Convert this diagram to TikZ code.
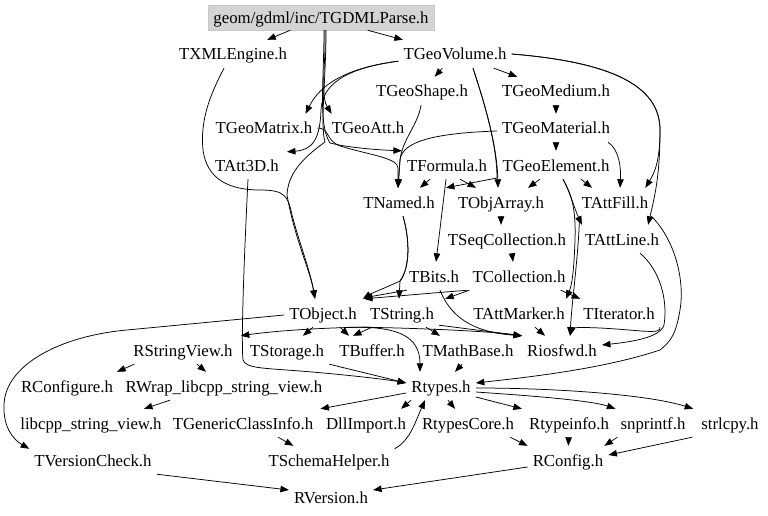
\documentclass[tikz,border=0pt]{standalone}
\usepackage{fontspec}
\setmainfont{Liberation Serif}
\usetikzlibrary{arrows.meta}
\begin{document}
\begin{tikzpicture}[x=1pt,y=-1pt,
  n/.style={inner xsep=5pt,inner ysep=7pt,text height=13pt,text depth=1pt,font=\fontsize{16.8}{18}\selectfont},
  root/.style={n,fill=black!17,draw=black!22,minimum width=226pt,minimum height=25pt,inner ysep=4pt},
  e/.style={draw=black,line width=0.75pt,-{Triangle[length=8.5pt,width=6.5pt]}}]
\fill[white] (0,0) rectangle (768,516);
\useasboundingbox (0,0) rectangle (768,516);
% nodes
\node[root] (P) at (321,17.5) {geom/gdml/inc/TGDMLParse.h};
\node[n] (XML) at (233,54) {TXMLEngine.h};
\node[n] (Vol) at (455,54) {TGeoVolume.h};
\node[n] (Shape) at (422,91) {TGeoShape.h};
\node[n] (Medium) at (556,91) {TGeoMedium.h};
\node[n] (Matrix) at (264,128) {TGeoMatrix.h};
\node[n] (Att) at (368,128) {TGeoAtt.h};
\node[n] (Material) at (556,128) {TGeoMaterial.h};
\node[n] (Att3D) at (247,165) {TAtt3D.h};
\node[n] (Formula) at (447,165) {TFormula.h};
\node[n] (Element) at (556,165) {TGeoElement.h};
\node[n] (Named) at (399,202) {TNamed.h};
\node[n] (ObjArray) at (501,202) {TObjArray.h};
\node[n] (AttFill) at (615,202) {TAttFill.h};
\node[n] (SeqColl) at (507,239) {TSeqCollection.h};
\node[n] (AttLine) at (622,239) {TAttLine.h};
\node[n] (Bits) at (434,276) {TBits.h};
\node[n] (Coll) at (519,276) {TCollection.h};
\node[n] (Object) at (323,313) {TObject.h};
\node[n] (String) at (402,313) {TString.h};
\node[n] (AttMarker) at (519,313) {TAttMarker.h};
\node[n] (Iterator) at (619,313) {TIterator.h};
\node[n] (RSV) at (183,350) {RStringView.h};
\node[n] (Storage) at (287,350) {TStorage.h};
\node[n] (Buffer) at (372,350) {TBuffer.h};
\node[n] (MathBase) at (468,350) {TMathBase.h};
\node[n] (Riosfwd) at (562,350) {Riosfwd.h};
\node[n] (RConfigure) at (67,386) {RConfigure.h};
\node[n] (RWrap) at (224,386) {RWrap\_libcpp\_string\_view.h};
\node[n] (Rtypes) at (441,386) {Rtypes.h};
\node[n] (Libcpp) at (91,423) {libcpp\_string\_view.h};
\node[n] (TGCI) at (243,423) {TGenericClassInfo.h};
\node[n] (DllImport) at (366,423) {DllImport.h};
\node[n] (RtypesCore) at (468,423) {RtypesCore.h};
\node[n] (Rtypeinfo) at (569,423) {Rtypeinfo.h};
\node[n] (Snprintf) at (653,423) {snprintf.h};
\node[n] (Strlcpy) at (730,423) {strlcpy.h};
\node[n] (TVC) at (93,460) {TVersionCheck.h};
\node[n] (Schema) at (329,460) {TSchemaHelper.h};
\node[n] (RConfig) at (568,460) {RConfig.h};
\node[n] (RVersion) at (331,497) {RVersion.h};
% edges
\draw[e] (P) -- (XML);
\draw[e] (P) -- (Vol);
\draw[e] (Vol) -- (Shape);
\draw[e] (Vol) -- (Medium);
\draw[e] (Vol) .. controls (345,68) and (320,85) .. ([xshift=-12pt]Matrix.north east);
\draw[e] ([xshift=4pt]P.south) .. controls (326,65) and (320,95) .. ([xshift=5pt]Att.north west);
\draw[e] ([xshift=3pt]P.south) .. controls (324,80) and (318,125) .. (330,143) .. controls (350,148) and (380,150) .. (Formula.north west);
\draw[e] (Vol) .. controls (345,68) and (322,85) .. (321,110) .. controls (320,140) and (312,150) .. ([xshift=3pt,yshift=-1pt]Att3D.north east);
\draw[e] (Matrix.east) .. controls (330,128) and (325,140) .. (340,146) .. controls (370,155) and (398,158) .. (398,168) -- ([xshift=-1pt]Named.north);
\draw[e] ([xshift=-1pt]Shape.south) .. controls (418,125) and (402,140) .. (400,160) -- ([xshift=-1pt]Named.north);
\draw[e] ([yshift=-3pt]Material.west) .. controls (440,133) and (402,140) .. (400,160) -- ([xshift=-1pt]Named.north);
\draw[e] ([xshift=-17pt]Formula.south) -- ([xshift=21pt]Named.north);
\draw[e] ([xshift=-1pt]Formula.south) -- ([xshift=2pt]Bits.north);
\draw[e] ([xshift=13pt]Formula.south) -- ([xshift=-25pt]ObjArray.north);
\draw[e] ([xshift=18pt]Vol.south) .. controls (480,90) and (497,140) .. ([xshift=-3pt]ObjArray.north);
\draw[e] ([xshift=18pt]Vol.south) .. controls (480,90) and (497,140) .. (497,178) -- ([xshift=6pt]Named.north east);
\draw[e] ([xshift=-16pt]Element.south) -- ([xshift=27pt]ObjArray.north);
\draw[e] (Medium) -- (Material);
\draw[e] (Material) -- (Element);
\draw[e] ([xshift=52pt]Material.south) .. controls (620,150) and (621,170) .. ([xshift=5pt]AttFill.north);
\draw[e] ([xshift=25pt]Element.south) -- ([xshift=-23pt]AttFill.north);
\draw[e] (Vol.east) .. controls (610,62) and (660,85) .. (660,130) .. controls (660,160) and (655,172) .. ([xshift=-8pt]AttFill.north east);
\draw[e] (Vol.east) .. controls (610,62) and (660,85) .. (660,130) .. controls (660,175) and (655,195) .. ([xshift=-16pt]AttLine.north east);
\draw[e] ([xshift=7pt]Element.south) .. controls (570,192) and (575,210) .. ([xshift=2pt]AttLine.north west);
\draw[e] ([xshift=7pt]Element.south) .. controls (572,195) and (576,210) .. (575,240) .. controls (574,270) and (572,285) .. ([xshift=-4pt]AttMarker.north east);
\draw[e] ([xshift=-10pt]Coll.south east) -- ([xshift=2pt]Iterator.north west);
\draw[e] ([xshift=3pt]AttFill.south west) .. controls (578,260) and (572,300) .. ([xshift=8pt]Riosfwd.north);
\draw[e] (ObjArray.south) -- ([xshift=-6pt]SeqColl.north);
\draw[e] ([xshift=5pt]SeqColl.south) -- ([xshift=-6pt]Coll.north);
\draw[e] (Coll.south west) -- ([xshift=2pt]Object.north east);
\draw[e] ([xshift=2pt]Coll.south west) -- ([xshift=6pt]String.north east);
\draw[e] ([xshift=4pt]Named.south) .. controls (410,240) and (410,268) .. (400,281) .. controls (385,288) and (372,293) .. ([xshift=1pt]Object.north east);
\draw[e] ([xshift=4pt]Named.south) .. controls (410,240) and (410,268) .. (400,281) -- ([xshift=-3pt]String.north);
\draw[e] ([xshift=3pt]Bits.south west) -- ([xshift=2pt,yshift=1pt]Object.north east);
\draw[e] ([xshift=6pt]Bits.south) .. controls (450,315) and (470,332) .. (Riosfwd.north west);
\draw[e] ([yshift=2pt]String.south east) -- (Riosfwd.north west);
\draw[e] ([xshift=24pt]String.south) -- ([xshift=-28pt]MathBase.north);
\draw[e] ([xshift=-10pt]Object.south) -- ([xshift=16pt]Storage.north);
\draw[e] ([xshift=17pt]Object.south) -- ([xshift=-23pt]Buffer.north);
\draw[e] ([xshift=-30pt]String.south) -- ([xshift=-19pt]Buffer.north);
\draw[e] ([xshift=-30pt]String.south) .. controls (340,327) and (280,330) .. ([xshift=3pt]RSV.north east);
\draw[e] (Object.south east) .. controls (395,328) and (420,335) .. ([xshift=-21pt]Rtypes.north);
\draw[e] ([xshift=25pt]Object.south) .. controls (380,327) and (480,330) .. (Riosfwd.north west);
\draw[e] ([yshift=-2pt]Object.west) -- (127,330) .. controls (60,336) and (5,365) .. (4,405) .. controls (3,428) and (14,440) .. ([yshift=-3pt]TVC.north west);
\draw[e] ([xshift=16pt]AttMarker.south) -- ([xshift=-17pt]Riosfwd.north);
\draw[e] ([xshift=18pt]AttLine.south) .. controls (660,270) and (668,300) .. (664,325) .. controls (660,338) and (630,342) .. ([yshift=5pt]Riosfwd.east);
\draw[e] ([xshift=-2pt]AttFill.south east) .. controls (675,240) and (685,280) .. (680,310) .. controls (676,335) and (670,342) .. (660,350) .. controls (600,370) and (520,378) .. ([yshift=3pt]Rtypes.east);
\draw[e] (Iterator.south east) .. controls (662,335) and (640,330) .. (600,328) .. controls (580,327) and (572,328) .. ([xshift=8pt]Riosfwd.north);
\draw[e] ([xshift=6pt]RSV.south west) -- ([xshift=-1pt]RConfigure.north east);
\draw[e] ([xshift=14pt]RSV.south) -- ([xshift=-18pt]RWrap.north);
\draw[e] ([xshift=-54pt]RWrap.south) -- ([xshift=53pt]Libcpp.north);
\draw[e] ([xshift=1pt]Att3D.south) .. controls (244,260) and (241,340) .. (243,360) .. controls (246,368) and (260,368) .. (300,371) .. controls (350,375) and (390,380) .. ([yshift=3pt]Rtypes.west);
\draw[e] (Storage.south east) -- ([yshift=3pt]Rtypes.west);
\draw[e] ([xshift=-6pt]MathBase.south) -- ([xshift=14pt]Rtypes.north);
\draw[e] ([yshift=-7pt]Rtypes.west) -- ([xshift=2pt]TGCI.north east);
\draw[e] ([xshift=-30pt]Rtypes.south) -- ([xshift=-10pt]DllImport.north east);
\draw[e] ([xshift=7pt]Rtypes.south) -- ([xshift=-13pt]RtypesCore.north);
\draw[e] ([yshift=-11pt]Rtypes.east) -- ([xshift=-2pt]Rtypeinfo.north west);
\draw[e] ([yshift=-6pt]Rtypes.east) .. controls (520,395) and (590,400) .. (Snprintf.north west);
\draw[e] ([yshift=-2pt]Rtypes.east) .. controls (560,388) and (650,395) .. ([xshift=-3pt]Strlcpy.north west);
\draw[e] ([xshift=35pt]TGCI.south) -- ([xshift=30pt]Schema.north west);
\draw[e] ([yshift=-3pt]Schema.north east) .. controls (410,440) and (414,425) .. ([xshift=-16pt]Rtypes.south);
\draw[e] ([xshift=42pt]RtypesCore.south) -- (RConfig.north west);
\draw[e] (Rtypeinfo) -- (RConfig);
\draw[e] ([xshift=2pt]Snprintf.south west) -- ([xshift=-4pt]RConfig.north east);
\draw[e] ([xshift=-4pt]Strlcpy.south west) -- ([yshift=5pt]RConfig.east);
\draw[e] ([yshift=-7pt]RConfig.west) -- ([yshift=7pt]RVersion.east);
\draw[e] (TVC.south east) -- ([yshift=7pt]RVersion.west);
\draw[e] ([xshift=-9pt]XML.south) .. controls (210,95) and (200,120) .. (203,150) .. controls (207,180) and (230,190) .. (260,190) .. controls (285,190) and (288,196) .. (292,215) .. controls (300,245) and (310,270) .. ([xshift=-8pt]Object.north);
\draw[e] ([xshift=5pt]P.south) .. controls (326,80) and (320,125) .. (325,142) .. controls (300,160) and (288,175) .. (287,195) .. controls (295,240) and (310,270) .. ([xshift=-8pt]Object.north);
\end{tikzpicture}
\end{document}
